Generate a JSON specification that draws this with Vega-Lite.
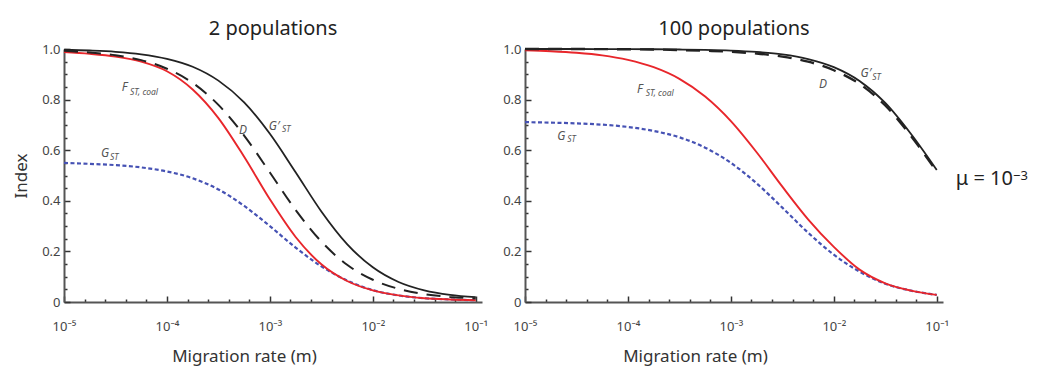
{
  "$schema": "https://vega.github.io/schema/vega-lite/v6.json",
  "padding": {"left": 12, "top": 19, "right": 0, "bottom": 6},
  "bounds": "flush",
  "spacing": 43,
  "datasets": {
    "curves": [
      {"panel": "2", "curve": "GST", "m": 0.00001, "index": 0.55},
      {"panel": "2", "curve": "GST", "m": 0.0000177828, "index": 0.546},
      {"panel": "2", "curve": "GST", "m": 0.0000316228, "index": 0.541},
      {"panel": "2", "curve": "GST", "m": 0.0000562341, "index": 0.532},
      {"panel": "2", "curve": "GST", "m": 0.0001, "index": 0.516},
      {"panel": "2", "curve": "GST", "m": 0.000177828, "index": 0.489},
      {"panel": "2", "curve": "GST", "m": 0.000316228, "index": 0.445},
      {"panel": "2", "curve": "GST", "m": 0.000562341, "index": 0.38},
      {"panel": "2", "curve": "GST", "m": 0.001, "index": 0.3},
      {"panel": "2", "curve": "GST", "m": 0.00177828, "index": 0.215},
      {"panel": "2", "curve": "GST", "m": 0.00316228, "index": 0.141},
      {"panel": "2", "curve": "GST", "m": 0.00562341, "index": 0.085},
      {"panel": "2", "curve": "GST", "m": 0.01, "index": 0.047},
      {"panel": "2", "curve": "GST", "m": 0.0177828, "index": 0.026},
      {"panel": "2", "curve": "GST", "m": 0.0316228, "index": 0.015},
      {"panel": "2", "curve": "GST", "m": 0.0562341, "index": 0.01},
      {"panel": "2", "curve": "GST", "m": 0.1, "index": 0.007},

      {"panel": "2", "curve": "FST", "m": 0.00001, "index": 0.988},
      {"panel": "2", "curve": "FST", "m": 0.0000177828, "index": 0.981},
      {"panel": "2", "curve": "FST", "m": 0.0000316228, "index": 0.97},
      {"panel": "2", "curve": "FST", "m": 0.0000562341, "index": 0.95},
      {"panel": "2", "curve": "FST", "m": 0.0001, "index": 0.912},
      {"panel": "2", "curve": "FST", "m": 0.000177828, "index": 0.84},
      {"panel": "2", "curve": "FST", "m": 0.000316228, "index": 0.727},
      {"panel": "2", "curve": "FST", "m": 0.000562341, "index": 0.574},
      {"panel": "2", "curve": "FST", "m": 0.001, "index": 0.406},
      {"panel": "2", "curve": "FST", "m": 0.00177828, "index": 0.257},
      {"panel": "2", "curve": "FST", "m": 0.00316228, "index": 0.149},
      {"panel": "2", "curve": "FST", "m": 0.00562341, "index": 0.083},
      {"panel": "2", "curve": "FST", "m": 0.01, "index": 0.046},
      {"panel": "2", "curve": "FST", "m": 0.0177828, "index": 0.026},
      {"panel": "2", "curve": "FST", "m": 0.0316228, "index": 0.015},
      {"panel": "2", "curve": "FST", "m": 0.0562341, "index": 0.01},
      {"panel": "2", "curve": "FST", "m": 0.1, "index": 0.007},

      {"panel": "2", "curve": "D", "m": 0.00001, "index": 0.993},
      {"panel": "2", "curve": "D", "m": 0.0000177828, "index": 0.986},
      {"panel": "2", "curve": "D", "m": 0.0000316228, "index": 0.975},
      {"panel": "2", "curve": "D", "m": 0.0000562341, "index": 0.956},
      {"panel": "2", "curve": "D", "m": 0.0001, "index": 0.922},
      {"panel": "2", "curve": "D", "m": 0.000177828, "index": 0.866},
      {"panel": "2", "curve": "D", "m": 0.000316228, "index": 0.779},
      {"panel": "2", "curve": "D", "m": 0.000562341, "index": 0.658},
      {"panel": "2", "curve": "D", "m": 0.001, "index": 0.512},
      {"panel": "2", "curve": "D", "m": 0.00177828, "index": 0.364},
      {"panel": "2", "curve": "D", "m": 0.00316228, "index": 0.239},
      {"panel": "2", "curve": "D", "m": 0.00562341, "index": 0.147},
      {"panel": "2", "curve": "D", "m": 0.01, "index": 0.088},
      {"panel": "2", "curve": "D", "m": 0.0177828, "index": 0.052},
      {"panel": "2", "curve": "D", "m": 0.0316228, "index": 0.031},
      {"panel": "2", "curve": "D", "m": 0.0562341, "index": 0.02},
      {"panel": "2", "curve": "D", "m": 0.1, "index": 0.014},

      {"panel": "2", "curve": "GpST", "m": 0.00001, "index": 0.997},
      {"panel": "2", "curve": "GpST", "m": 0.0000177828, "index": 0.994},
      {"panel": "2", "curve": "GpST", "m": 0.0000316228, "index": 0.989},
      {"panel": "2", "curve": "GpST", "m": 0.0000562341, "index": 0.979},
      {"panel": "2", "curve": "GpST", "m": 0.0001, "index": 0.961},
      {"panel": "2", "curve": "GpST", "m": 0.000177828, "index": 0.93},
      {"panel": "2", "curve": "GpST", "m": 0.000316228, "index": 0.875},
      {"panel": "2", "curve": "GpST", "m": 0.000562341, "index": 0.789},
      {"panel": "2", "curve": "GpST", "m": 0.001, "index": 0.665},
      {"panel": "2", "curve": "GpST", "m": 0.00177828, "index": 0.513},
      {"panel": "2", "curve": "GpST", "m": 0.00316228, "index": 0.358},
      {"panel": "2", "curve": "GpST", "m": 0.00562341, "index": 0.229},
      {"panel": "2", "curve": "GpST", "m": 0.01, "index": 0.137},
      {"panel": "2", "curve": "GpST", "m": 0.0177828, "index": 0.079},
      {"panel": "2", "curve": "GpST", "m": 0.0316228, "index": 0.046},
      {"panel": "2", "curve": "GpST", "m": 0.0562341, "index": 0.028},
      {"panel": "2", "curve": "GpST", "m": 0.1, "index": 0.019},

      {"panel": "100", "curve": "GST", "m": 0.00001, "index": 0.711},
      {"panel": "100", "curve": "GST", "m": 0.0000177828, "index": 0.709},
      {"panel": "100", "curve": "GST", "m": 0.0000316228, "index": 0.706},
      {"panel": "100", "curve": "GST", "m": 0.0000562341, "index": 0.701},
      {"panel": "100", "curve": "GST", "m": 0.0001, "index": 0.692},
      {"panel": "100", "curve": "GST", "m": 0.000177828, "index": 0.676},
      {"panel": "100", "curve": "GST", "m": 0.000316228, "index": 0.651},
      {"panel": "100", "curve": "GST", "m": 0.000562341, "index": 0.61},
      {"panel": "100", "curve": "GST", "m": 0.001, "index": 0.55},
      {"panel": "100", "curve": "GST", "m": 0.00177828, "index": 0.469},
      {"panel": "100", "curve": "GST", "m": 0.00316228, "index": 0.373},
      {"panel": "100", "curve": "GST", "m": 0.00562341, "index": 0.274},
      {"panel": "100", "curve": "GST", "m": 0.01, "index": 0.187},
      {"panel": "100", "curve": "GST", "m": 0.0177828, "index": 0.12},
      {"panel": "100", "curve": "GST", "m": 0.0316228, "index": 0.072},
      {"panel": "100", "curve": "GST", "m": 0.0562341, "index": 0.045},
      {"panel": "100", "curve": "GST", "m": 0.1, "index": 0.028},

      {"panel": "100", "curve": "FST", "m": 0.00001, "index": 0.995},
      {"panel": "100", "curve": "FST", "m": 0.0000177828, "index": 0.991},
      {"panel": "100", "curve": "FST", "m": 0.0000316228, "index": 0.985},
      {"panel": "100", "curve": "FST", "m": 0.0000562341, "index": 0.975},
      {"panel": "100", "curve": "FST", "m": 0.0001, "index": 0.957},
      {"panel": "100", "curve": "FST", "m": 0.000177828, "index": 0.928},
      {"panel": "100", "curve": "FST", "m": 0.000316228, "index": 0.882},
      {"panel": "100", "curve": "FST", "m": 0.000562341, "index": 0.812},
      {"panel": "100", "curve": "FST", "m": 0.001, "index": 0.715},
      {"panel": "100", "curve": "FST", "m": 0.00177828, "index": 0.592},
      {"panel": "100", "curve": "FST", "m": 0.00316228, "index": 0.456},
      {"panel": "100", "curve": "FST", "m": 0.00562341, "index": 0.327},
      {"panel": "100", "curve": "FST", "m": 0.01, "index": 0.218},
      {"panel": "100", "curve": "FST", "m": 0.0177828, "index": 0.128},
      {"panel": "100", "curve": "FST", "m": 0.0316228, "index": 0.074},
      {"panel": "100", "curve": "FST", "m": 0.0562341, "index": 0.045},
      {"panel": "100", "curve": "FST", "m": 0.1, "index": 0.028},

      {"panel": "100", "curve": "D", "m": 0.00001, "index": 1.0},
      {"panel": "100", "curve": "D", "m": 0.0000177828, "index": 1.0},
      {"panel": "100", "curve": "D", "m": 0.0000316228, "index": 0.9998},
      {"panel": "100", "curve": "D", "m": 0.0000562341, "index": 0.9995},
      {"panel": "100", "curve": "D", "m": 0.0001, "index": 0.999},
      {"panel": "100", "curve": "D", "m": 0.000177828, "index": 0.998},
      {"panel": "100", "curve": "D", "m": 0.000316228, "index": 0.996},
      {"panel": "100", "curve": "D", "m": 0.000562341, "index": 0.993},
      {"panel": "100", "curve": "D", "m": 0.001, "index": 0.989},
      {"panel": "100", "curve": "D", "m": 0.00177828, "index": 0.982},
      {"panel": "100", "curve": "D", "m": 0.00316228, "index": 0.97},
      {"panel": "100", "curve": "D", "m": 0.00562341, "index": 0.95},
      {"panel": "100", "curve": "D", "m": 0.01, "index": 0.916},
      {"panel": "100", "curve": "D", "m": 0.0177828, "index": 0.862},
      {"panel": "100", "curve": "D", "m": 0.0316228, "index": 0.777},
      {"panel": "100", "curve": "D", "m": 0.0562341, "index": 0.656},
      {"panel": "100", "curve": "D", "m": 0.1, "index": 0.515},

      {"panel": "100", "curve": "GpST", "m": 0.00001, "index": 1.0},
      {"panel": "100", "curve": "GpST", "m": 0.0000177828, "index": 1.0},
      {"panel": "100", "curve": "GpST", "m": 0.0000316228, "index": 1.0},
      {"panel": "100", "curve": "GpST", "m": 0.0000562341, "index": 0.9998},
      {"panel": "100", "curve": "GpST", "m": 0.0001, "index": 0.9995},
      {"panel": "100", "curve": "GpST", "m": 0.000177828, "index": 0.999},
      {"panel": "100", "curve": "GpST", "m": 0.000316228, "index": 0.998},
      {"panel": "100", "curve": "GpST", "m": 0.000562341, "index": 0.9965},
      {"panel": "100", "curve": "GpST", "m": 0.001, "index": 0.9937},
      {"panel": "100", "curve": "GpST", "m": 0.00177828, "index": 0.9883},
      {"panel": "100", "curve": "GpST", "m": 0.00316228, "index": 0.9785},
      {"panel": "100", "curve": "GpST", "m": 0.00562341, "index": 0.9603},
      {"panel": "100", "curve": "GpST", "m": 0.01, "index": 0.9283},
      {"panel": "100", "curve": "GpST", "m": 0.0177828, "index": 0.8735},
      {"panel": "100", "curve": "GpST", "m": 0.0316228, "index": 0.7868},
      {"panel": "100", "curve": "GpST", "m": 0.0562341, "index": 0.664},
      {"panel": "100", "curve": "GpST", "m": 0.1, "index": 0.522}
    ],
    "notes": [
      {"panel": "2", "part": "main", "text": "F", "m": 0.0000363, "index": 0.835},
      {"panel": "2", "part": "sub", "text": "ST, coal", "m": 0.00004375, "index": 0.82},
      {"panel": "2", "part": "main", "text": "D", "m": 0.000501, "index": 0.664},
      {"panel": "2", "part": "main", "text": "G′", "m": 0.000977, "index": 0.68},
      {"panel": "2", "part": "sub", "text": "ST", "m": 0.001309, "index": 0.67},
      {"panel": "2", "part": "main", "text": "G", "m": 0.00002286, "index": 0.573},
      {"panel": "2", "part": "sub", "text": "ST", "m": 0.000028, "index": 0.561},
      {"panel": "100", "part": "main", "text": "F", "m": 0.0001225, "index": 0.825},
      {"panel": "100", "part": "sub", "text": "ST, coal", "m": 0.0001486, "index": 0.814},
      {"panel": "100", "part": "main", "text": "G", "m": 0.0000206, "index": 0.64},
      {"panel": "100", "part": "sub", "text": "ST", "m": 0.00002576, "index": 0.634},
      {"panel": "100", "part": "main", "text": "D", "m": 0.00716, "index": 0.845},
      {"panel": "100", "part": "main", "text": "G′", "m": 0.0182, "index": 0.89},
      {"panel": "100", "part": "sub", "text": "ST", "m": 0.0236, "index": 0.877},
      {"panel": "100", "part": "mu", "text": "μ = 10", "m": 0.1529, "index": 0.462},
      {"panel": "100", "part": "exp", "text": "−3", "m": 0.551, "index": 0.482}
    ]
  },
  "hconcat": [
    {
      "width": 418,
      "height": 253,
      "title": {"text": "2 populations"},
      "resolve": {"axis": {"x": "independent", "y": "independent"}},
      "layer": [
        {
          "data": {"name": "curves"},
          "transform": [{"filter": "false"}],
          "mark": {"type": "line"},
          "encoding": {
            "x": {"field": "m", "type": "quantitative", "scale": {"type": "log", "domain": [0.00001, 0.115], "nice": false},
                  "axis": {"orient": "bottom", "title": null, "labels": false, "domain": false, "tickSize": -3,
                           "values": [0.000015849, 0.000025119, 0.000039811, 0.000063096, 0.00015849, 0.00025119, 0.00039811, 0.00063096, 0.0015849, 0.0025119, 0.0039811, 0.0063096, 0.015849, 0.025119, 0.039811, 0.063096]}},
            "y": {"field": "index", "type": "quantitative", "scale": {"domain": [0, 1], "nice": false},
                  "axis": {"orient": "left", "title": null, "labels": false, "domain": false, "tickSize": -3,
                           "values": [0.05, 0.1, 0.15, 0.25, 0.3, 0.35, 0.45, 0.5, 0.55, 0.65, 0.7, 0.75, 0.85, 0.9, 0.95]}}
          }
        },
        {
          "encoding": {
            "x": {
              "field": "m", "type": "quantitative",
              "scale": {"type": "log", "domain": [0.00001, 0.115], "nice": false},
              "axis": {
                "orient": "bottom",
                "title": "Migration rate (m)",
                "titleX": 180,
                "values": [0.00001, 0.0001, 0.001, 0.01, 0.1],
                "labelExpr": "'10⁻' + substring('⁰¹²³⁴⁵', -round(log(datum.value)/LN10), -round(log(datum.value)/LN10) + 1)",
                "tickSize": -6,
                "labelPadding": 24,
                "titlePadding": 15
              }
            },
            "y": {
              "field": "index", "type": "quantitative",
              "scale": {"domain": [0, 1], "nice": false},
              "axis": {
                "orient": "left",
                "title": "Index",
                "values": [0, 0.2, 0.4, 0.6, 0.8, 1],
                "labelExpr": "datum.value == 0 ? '0' : format(datum.value, '.1f')",
                "tickSize": -6,
                "labelPadding": 10,
                "titlePadding": 11
              }
            }
          },
          "layer": [
            {"data": {"name": "curves"}, "transform": [{"filter": "datum.panel == '2' && datum.curve == 'GST'"}],
             "mark": {"type": "line", "color": "#4652b4", "strokeWidth": 2.2, "strokeDash": [4, 2.5], "interpolate": "monotone"}},
            {"data": {"name": "curves"}, "transform": [{"filter": "datum.panel == '2' && datum.curve == 'FST'"}],
             "mark": {"type": "line", "color": "#e8262b", "strokeWidth": 1.9, "interpolate": "monotone"}},
            {"data": {"name": "curves"}, "transform": [{"filter": "datum.panel == '2' && datum.curve == 'D'"}],
             "mark": {"type": "line", "color": "#222222", "strokeWidth": 2, "strokeDash": [14, 9], "interpolate": "monotone"}},
            {"data": {"name": "curves"}, "transform": [{"filter": "datum.panel == '2' && datum.curve == 'GpST'"}],
             "mark": {"type": "line", "color": "#222222", "strokeWidth": 1.8, "interpolate": "monotone"}},
            {"data": {"name": "notes"}, "transform": [{"filter": "datum.panel == '2' && datum.part == 'main'"}],
             "mark": {"type": "text", "align": "left", "baseline": "alphabetic", "fontStyle": "italic", "fontSize": 12, "font": "Noto Sans", "color": "#555555"},
             "encoding": {"text": {"field": "text"}}},
            {"data": {"name": "notes"}, "transform": [{"filter": "datum.panel == '2' && datum.part == 'sub'"}],
             "mark": {"type": "text", "align": "left", "baseline": "alphabetic", "fontStyle": "italic", "fontSize": 8.5, "font": "Noto Sans", "color": "#555555"},
             "encoding": {"text": {"field": "text"}}}
          ]
        }
      ]
    },
    {
      "width": 418,
      "height": 253,
      "title": {"text": "100 populations"},
      "resolve": {"axis": {"x": "independent", "y": "independent"}},
      "layer": [
        {
          "data": {"name": "curves"},
          "transform": [{"filter": "false"}],
          "mark": {"type": "line"},
          "encoding": {
            "x": {"field": "m", "type": "quantitative", "scale": {"type": "log", "domain": [0.00001, 0.115], "nice": false},
                  "axis": {"orient": "bottom", "title": null, "labels": false, "domain": false, "tickSize": -3,
                           "values": [0.000015849, 0.000025119, 0.000039811, 0.000063096, 0.00015849, 0.00025119, 0.00039811, 0.00063096, 0.0015849, 0.0025119, 0.0039811, 0.0063096, 0.015849, 0.025119, 0.039811, 0.063096]}},
            "y": {"field": "index", "type": "quantitative", "scale": {"domain": [0, 1], "nice": false},
                  "axis": {"orient": "left", "title": null, "labels": false, "domain": false, "tickSize": -3,
                           "values": [0.05, 0.1, 0.15, 0.25, 0.3, 0.35, 0.45, 0.5, 0.55, 0.65, 0.7, 0.75, 0.85, 0.9, 0.95]}}
          }
        },
        {
          "encoding": {
            "x": {
              "field": "m", "type": "quantitative",
              "scale": {"type": "log", "domain": [0.00001, 0.115], "nice": false},
              "axis": {
                "orient": "bottom",
                "title": "Migration rate (m)",
                "titleX": 170,
                "values": [0.00001, 0.0001, 0.001, 0.01, 0.1],
                "labelExpr": "'10⁻' + substring('⁰¹²³⁴⁵', -round(log(datum.value)/LN10), -round(log(datum.value)/LN10) + 1)",
                "tickSize": -6,
                "labelPadding": 24,
                "titlePadding": 15
              }
            },
            "y": {
              "field": "index", "type": "quantitative",
              "scale": {"domain": [0, 1], "nice": false},
              "axis": {
                "orient": "left",
                "title": null,
                "values": [0, 0.2, 0.4, 0.6, 0.8, 1],
                "labelExpr": "datum.value == 0 ? '0' : format(datum.value, '.1f')",
                "tickSize": -6,
                "labelPadding": 10
              }
            }
          },
          "layer": [
            {"data": {"name": "curves"}, "transform": [{"filter": "datum.panel == '100' && datum.curve == 'GST'"}],
             "mark": {"type": "line", "color": "#4652b4", "strokeWidth": 2.2, "strokeDash": [4, 2.5], "interpolate": "monotone"}},
            {"data": {"name": "curves"}, "transform": [{"filter": "datum.panel == '100' && datum.curve == 'FST'"}],
             "mark": {"type": "line", "color": "#e8262b", "strokeWidth": 1.9, "interpolate": "monotone"}},
            {"data": {"name": "curves"}, "transform": [{"filter": "datum.panel == '100' && datum.curve == 'D'"}],
             "mark": {"type": "line", "color": "#222222", "strokeWidth": 2.4, "strokeDash": [14, 9], "interpolate": "monotone"}},
            {"data": {"name": "curves"}, "transform": [{"filter": "datum.panel == '100' && datum.curve == 'GpST'"}],
             "mark": {"type": "line", "color": "#222222", "strokeWidth": 1.8, "interpolate": "monotone"}},
            {"data": {"name": "notes"}, "transform": [{"filter": "datum.panel == '100' && datum.part == 'main'"}],
             "mark": {"type": "text", "align": "left", "baseline": "alphabetic", "fontStyle": "italic", "fontSize": 12, "font": "Noto Sans", "color": "#555555"},
             "encoding": {"text": {"field": "text"}}},
            {"data": {"name": "notes"}, "transform": [{"filter": "datum.panel == '100' && datum.part == 'sub'"}],
             "mark": {"type": "text", "align": "left", "baseline": "alphabetic", "fontStyle": "italic", "fontSize": 8.5, "font": "Noto Sans", "color": "#555555"},
             "encoding": {"text": {"field": "text"}}},
            {"data": {"name": "notes"}, "transform": [{"filter": "datum.part == 'mu'"}],
             "mark": {"type": "text", "align": "left", "baseline": "alphabetic", "fontSize": 20, "font": "Noto Sans", "color": "#222222"},
             "encoding": {"text": {"field": "text"}}},
            {"data": {"name": "notes"}, "transform": [{"filter": "datum.part == 'exp'"}],
             "mark": {"type": "text", "align": "left", "baseline": "alphabetic", "fontSize": 13, "font": "Noto Sans", "color": "#222222"},
             "encoding": {"text": {"field": "text"}}}
          ]
        }
      ]
    }
  ],
  "config": {
    "view": {"stroke": null},
    "font": "Noto Sans",
    "title": {"font": "Noto Sans", "fontSize": 20, "fontWeight": "normal", "color": "#222222", "offset": 4, "anchor": "middle"},
    "axis": {
      "grid": false,
      "ticks": true,
      "domainColor": "#555555",
      "domainWidth": 2,
      "tickColor": "#333333",
      "tickWidth": 1.5,
      "labelFont": "Noto Sans",
      "labelFontSize": 13,
      "labelColor": "#444444",
      "labelOverlap": false,
      "labelFlush": false,
      "titleFont": "Noto Sans",
      "titleFontSize": 17,
      "titleFontWeight": "normal",
      "titleColor": "#333333"
    }
  }
}
